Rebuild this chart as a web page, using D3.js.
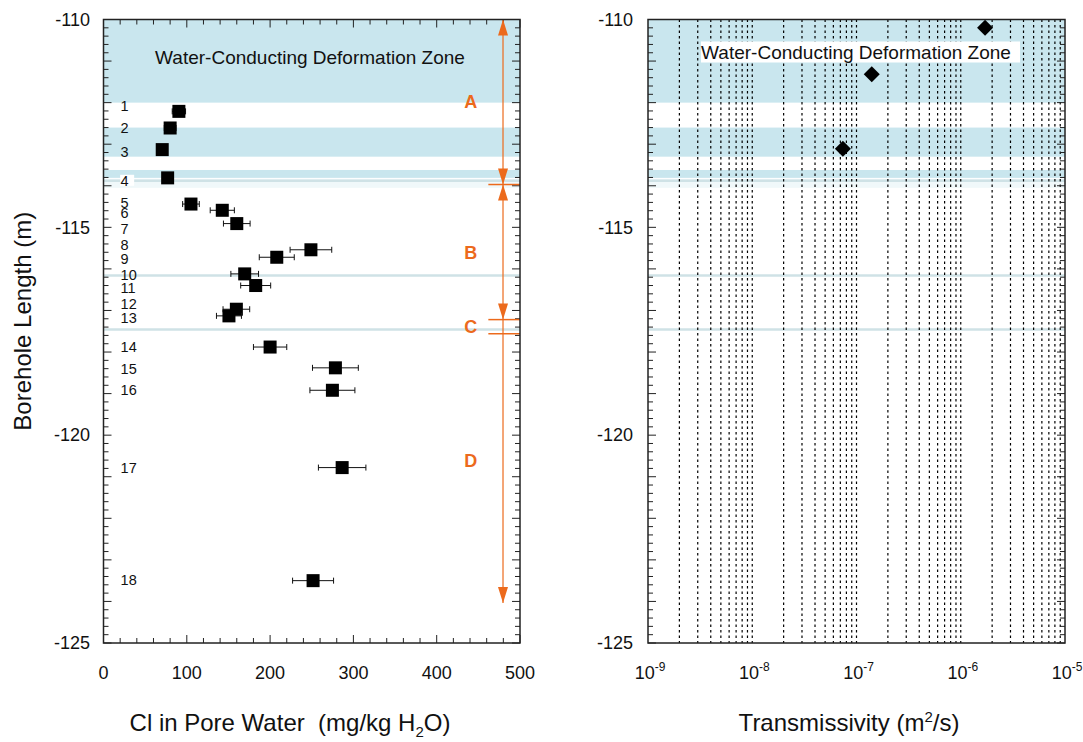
<!DOCTYPE html>
<html lang="en">
<head>
  <meta charset="UTF-8">
  <title>Cl in Pore Water and Transmissivity vs Borehole Length</title>
  <script src="https://d3js.org/d3.v7.min.js"></script>
  <style>
    body { margin: 0; background: #fff; }
    svg text { font-family: "Liberation Sans", Arial, Helvetica, sans-serif; fill: #111; }
  </style>
</head>
<body>
  <div id="chart"></div>
  <script>
    // samples (left panel)
    const sampleIds = [1, 2, 3, 4, 5, 6, 7, 8, 9, 10, 11, 12, 13, 14, 15, 16, 17, 18];
    const clValues = [90.5, 80, 70.5, 77, 105, 142.6, 160, 249, 208, 169.5, 182.7, 159.5, 150.6, 200, 278.4, 274.8, 286.5, 251.6];
    const clErrors = [8, 7, 4, 5, 10, 14.5, 16, 25, 21, 16.6, 18, 16, 15, 20, 27.5, 27, 28.5, 24.6];
    const clDepths = [-112.21, -112.61, -113.13, -113.81, -114.44, -114.59, -114.91, -115.54, -115.72, -116.12, -116.40, -116.97, -117.13, -117.88, -118.38, -118.92, -120.78, -123.50];
    const labelDepths = [-112.08, -112.60, -113.18, -113.88, -114.40, -114.65, -115.04, -115.42, -115.76, -116.14, -116.46, -116.85, -117.18, -117.88, -118.40, -118.91, -120.78, -123.48];

    // transmissivity (right panel)
    const tValues = [1.71e-6, 1.40e-7, 7.4e-8];
    const tDepths = [-110.20, -111.32, -113.11];

    // deformation zone bands and thin fractures
    const bands = [[-110, -112], [-112.6, -113.3], [-113.62, -113.81]];
    const faintBands = [[-113.81, -114.05]];
    const thinLines = [-113.88, -116.16, -117.46];

    // A-D intervals
    const zoneNames = ["A", "B", "C", "D"];
    const zoneBounds = [-110, -113.97, -117.22, -117.56, -124.04];
    const zoneLabelDepths = [-111.97, -115.61, -117.39, -120.6];

    const clTicks = [0, 100, 200, 300, 400, 500];
    const depthTicks = [-110, -115, -120, -125];
    const tDecades = [-9, -8, -7, -6, -5];

    const width = 1083, height = 742;
    const yTop = 19.5, yBottom = 643;
    const orange = "#ec6a1c";
    const bandColor = "#c9e6ee";

    const svg = d3.select("#chart").append("svg")
      .attr("width", width).attr("height", height);

    const y = d3.scaleLinear().domain([-110, -125]).range([yTop, yBottom]);
    const xL = d3.scaleLinear().domain([0, 500]).range([103.5, 520]);
    const xR = d3.scaleLog().domain([1e-9, 1e-5]).range([648, 1065]);

    function drawBands(g, x0, x1) {
      g.selectAll(".band").data(bands).join("rect")
        .attr("x", x0).attr("width", x1 - x0)
        .attr("y", d => y(d[0])).attr("height", d => y(d[1]) - y(d[0]))
        .attr("fill", bandColor);
      g.selectAll(".faint").data(faintBands).join("rect")
        .attr("x", x0).attr("width", x1 - x0)
        .attr("y", d => y(d[0]) + 1).attr("height", d => y(d[1]) - y(d[0]) - 1)
        .attr("fill", "#f0f8fa");
      g.selectAll(".thin").data(thinLines).join("line")
        .attr("x1", x0).attr("x2", x1)
        .attr("y1", d => y(d)).attr("y2", d => y(d))
        .attr("stroke", "#cfe2e6").attr("stroke-width", 2.5);
    }

    function depthTicksInward(g, x0, x1) {
      const minor = d3.range(-110, -125.01, -0.2).map(v => +v.toFixed(1));
      minor.forEach(v => {
        const major = Math.abs(v - Math.round(v)) < 1e-6;
        const len = major ? 8 : 5;
        g.append("line").attr("x1", x0).attr("x2", x0 + len)
          .attr("y1", y(v)).attr("y2", y(v)).attr("stroke", "#222").attr("stroke-width", 1);
        g.append("line").attr("x1", x1).attr("x2", x1 - len)
          .attr("y1", y(v)).attr("y2", y(v)).attr("stroke", "#222").attr("stroke-width", 1);
      });
    }

    function depthLabels(g, xr) {
      g.selectAll(".dl").data(depthTicks).join("text")
        .attr("x", xr).attr("y", d => y(d)).attr("dy", "0.35em")
        .attr("text-anchor", "end").attr("font-size", 18)
        .text(d => d);
    }

    // ---------- left panel ----------
    const gl = svg.append("g");
    drawBands(gl, xL(0), xL(500));

    gl.append("text")
      .attr("x", 310).attr("y", 57)
      .attr("dy", "0.35em").attr("text-anchor", "middle")
      .attr("font-size", 19)
      .text("Water-Conducting Deformation Zone");

    // x ticks top and bottom
    d3.range(0, 501, 20).forEach(v => {
      const len = v % 100 === 0 ? 8 : 5;
      gl.append("line").attr("x1", xL(v)).attr("x2", xL(v))
        .attr("y1", yBottom).attr("y2", yBottom - len).attr("stroke", "#222");
      gl.append("line").attr("x1", xL(v)).attr("x2", xL(v))
        .attr("y1", yTop).attr("y2", yTop + len).attr("stroke", "#222");
    });
    depthTicksInward(gl, xL(0), xL(500));

    gl.selectAll(".xl").data(clTicks).join("text")
      .attr("x", d => xL(d)).attr("y", 673).attr("dy", "0.35em")
      .attr("text-anchor", "middle").attr("font-size", 18)
      .text(d => d);
    depthLabels(gl, 90);

    // zone arrow
    const ax = xL(479.6);
    gl.append("line").attr("x1", ax).attr("x2", ax)
      .attr("y1", y(zoneBounds[0])).attr("y2", y(zoneBounds[4]))
      .attr("stroke", orange).attr("stroke-width", 1.2);
    [zoneBounds[1], zoneBounds[2], zoneBounds[3]].forEach(d => {
      gl.append("line").attr("x1", xL(462)).attr("x2", xL(500))
        .attr("y1", y(d)).attr("y2", y(d))
        .attr("stroke", orange).attr("stroke-width", 1.5);
    });
    function arrowHead(tipDepth, dir) {
      const ty = y(tipDepth);
      const by = ty - dir * 16;
      gl.append("path")
        .attr("d", `M${ax},${ty}L${ax - 5},${by}L${ax + 5},${by}Z`)
        .attr("fill", orange);
    }
    arrowHead(zoneBounds[0], -1);
    arrowHead(zoneBounds[1], 1);
    arrowHead(zoneBounds[1], -1);
    arrowHead(zoneBounds[2], 1);
    arrowHead(zoneBounds[4], 1);

    gl.selectAll(".zl").data(zoneNames).join("text")
      .attr("x", xL(441)).attr("y", (d, i) => y(zoneLabelDepths[i]))
      .attr("dy", "0.36em").attr("text-anchor", "middle")
      .attr("font-size", 18).attr("font-weight", "bold")
      .style("fill", orange)
      .text(d => d);

    // sample labels
    sampleIds.forEach((id, i) => {
      if (id === 4) {
        gl.append("rect").attr("x", xL(20)).attr("y", y(labelDepths[i]) - 6)
          .attr("width", 14).attr("height", 11).attr("fill", "#fff");
      }
      gl.append("text")
        .attr("x", xL(20.5)).attr("y", y(labelDepths[i])).attr("dy", "0.36em")
        .attr("font-size", 14.5).text(id);
    });

    // error bars and squares
    sampleIds.forEach((id, i) => {
      const cy = y(clDepths[i]);
      const x0 = xL(clValues[i] - clErrors[i]), x1 = xL(clValues[i] + clErrors[i]);
      gl.append("line").attr("x1", x0).attr("x2", x1).attr("y1", cy).attr("y2", cy)
        .attr("stroke", "#111").attr("stroke-width", 1);
      [x0, x1].forEach(xx => gl.append("line").attr("x1", xx).attr("x2", xx)
        .attr("y1", cy - 3).attr("y2", cy + 3).attr("stroke", "#111"));
      gl.append("rect")
        .attr("x", xL(clValues[i]) - 6.5).attr("y", cy - 6.5)
        .attr("width", 13).attr("height", 13).attr("fill", "#000");
    });

    gl.append("rect").attr("x", xL(0)).attr("y", yTop)
      .attr("width", xL(500) - xL(0)).attr("height", yBottom - yTop)
      .attr("fill", "none").attr("stroke", "#222").attr("stroke-width", 1.5);

    const tl = gl.append("text").attr("x", 290).attr("y", 731)
      .attr("text-anchor", "middle").attr("font-size", 24);
    tl.append("tspan").text("Cl in Pore Water\u00a0\u00a0(mg/kg H");
    tl.append("tspan").attr("font-size", 15).attr("dy", 6).text("2");
    tl.append("tspan").attr("dy", -6).text("O)");

    svg.append("text")
      .attr("transform", `translate(31,${(yTop + yBottom) / 2 - 10}) rotate(-90)`)
      .attr("text-anchor", "middle").attr("font-size", 24)
      .text("Borehole Length (m)");

    // ---------- right panel ----------
    const gr = svg.append("g");
    drawBands(gr, xR(1e-9), xR(1e-5));

    const gridVals = [];
    for (let e = -9; e < -5; e++) {
      for (let m = 2; m <= 10; m++) gridVals.push(m * Math.pow(10, e));
    }
    gr.selectAll(".grid").data(gridVals.filter(v => v < 0.99e-5)).join("line")
      .attr("x1", d => xR(d)).attr("x2", d => xR(d))
      .attr("y1", yTop).attr("y2", yBottom)
      .attr("stroke", "#000").attr("stroke-width", 1.2)
      .attr("stroke-dasharray", "2.5,3");

    gr.append("rect").attr("x", 701).attr("y", 41.5)
      .attr("width", 319).attr("height", 21).attr("fill", "#fff");
    gr.append("text")
      .attr("x", 856).attr("y", 52).attr("dy", "0.35em")
      .attr("text-anchor", "middle").attr("font-size", 19)
      .text("Water-Conducting Deformation Zone");

    depthTicksInward(gr, xR(1e-9), xR(1e-5));

    gr.selectAll(".dia").data(tValues).join("path")
      .attr("transform", (d, i) => `translate(${xR(d)},${y(tDepths[i])})`)
      .attr("d", "M0,-8L8,0L0,8L-8,0Z")
      .attr("fill", "#000");

    gr.append("rect").attr("x", xR(1e-9)).attr("y", yTop)
      .attr("width", xR(1e-5) - xR(1e-9)).attr("height", yBottom - yTop)
      .attr("fill", "none").attr("stroke", "#222").attr("stroke-width", 1.5);

    tDecades.forEach(e => {
      const t = gr.append("text").attr("x", xR(Math.pow(10, e)) + 2).attr("y", 679)
        .attr("text-anchor", "middle").attr("font-size", 18);
      t.append("tspan").text("10");
      t.append("tspan").attr("font-size", 12).attr("dy", -8).text(e);
    });
    depthLabels(gr, 633);

    const tr = gr.append("text").attr("x", 849).attr("y", 731)
      .attr("text-anchor", "middle").attr("font-size", 24);
    tr.append("tspan").text("Transmissivity (m");
    tr.append("tspan").attr("font-size", 15).attr("dy", -9).text("2");
    tr.append("tspan").attr("dy", 9).text("/s)");
  </script>
</body>
</html>
